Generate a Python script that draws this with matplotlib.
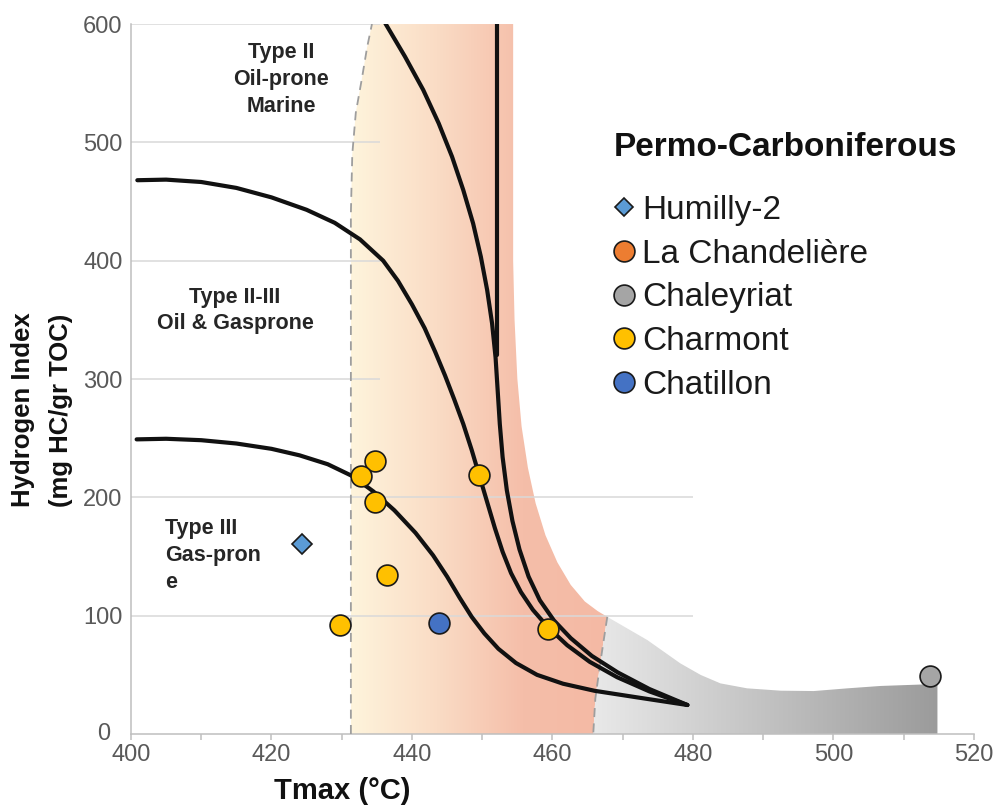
import matplotlib.pyplot as plt
from matplotlib.colors import LinearSegmentedColormap
from matplotlib.lines import Line2D
from matplotlib.patches import Polygon
from matplotlib.transforms import ScaledTranslation
import numpy as np

plt.rcParams["font.family"] = ["Liberation Sans", "DejaVu Sans"]

# samples (Tmax in degC, HI in mg HC/g TOC)
humilly_t = [424.4]
humilly_hi = [160.5]
chandeliere_t = []
chandeliere_hi = []
chaleyriat_t = [513.7]
chaleyriat_hi = [49]
charmont_t = [434.8, 432.7, 434.8, 436.5, 429.8, 449.5, 459.4]
charmont_hi = [231, 218, 196, 134, 92, 219, 89]
chatillon_t = [443.9]
chatillon_hi = [94.2]

# kerogen type boundaries
type2_t = [436.2, 439.0, 441.6, 443.8, 445.7, 447.3, 448.7, 449.8, 450.7, 451.4,
           451.9, 452.2, 452.5, 452.9, 453.5, 454.3, 455.3, 456.6, 458.2, 460.2,
           462.6, 465.6, 469.3, 473.8, 479.2]
type2_hi = [600.6, 572.5, 544.3, 516.1, 487.9, 459.7, 431.5, 403.4, 375.2, 347,
            318, 290, 262, 234, 206, 180, 156, 133, 113, 96,
            81, 66, 52, 38, 24.5]
type2_vert_t = [452.1, 452.1]
type2_vert_hi = [600, 320]
type23_t = [400.9, 405.0, 410.0, 415.0, 420.0, 425.0, 429.0, 432.6, 435.9, 438.0,
            440.0, 441.8, 443.3, 444.7, 446.0, 447.3, 448.5, 449.6, 450.7, 451.8,
            452.9, 454.1, 455.5, 457.2, 459.4, 462.1, 465.3, 469.2, 473.8, 479.2]
type23_hi = [468, 468.5, 466.5, 461.5, 453.5, 443, 432, 418, 400, 383,
             363, 343, 323, 303, 283, 262, 240, 218, 196, 174,
             154, 136, 120, 105, 90, 75, 61, 48, 36, 24.5]
type3_t = [400.8, 405.0, 410.0, 415.0, 420.0, 424.0, 428.0, 431.5, 434.5, 437.5,
           440.5, 443.0, 445.0, 446.8, 448.5, 450.3, 452.3, 454.8, 457.8, 461.5,
           466.0, 472.0, 479.2]
type3_hi = [249, 249.5, 248.3, 245.5, 241, 235.5, 228, 218, 205, 189,
            170, 151, 133, 115, 99, 85, 72, 60, 50, 42.5,
            36.5, 31, 24.5]

# oil window (left dashed edge, then the right edge top to bottom)
oil_left_t = [431.3, 431.3, 431.5, 432.0, 432.9, 433.6, 434.3]
oil_left_hi = [0, 440, 490, 525, 555, 580, 600]
oil_right_t = [454.4, 454.4, 454.6, 455.0, 455.6, 456.5, 457.6, 459.0, 460.7, 462.6,
               464.6, 466.4, 467.8, 466.8, 466.1, 465.8]
oil_right_hi = [600, 400, 350, 300, 260, 225, 195, 168, 145, 126,
                112, 104, 99, 60, 30, 0]
oil_dash_t = [467.8, 466.8, 466.1, 465.8]
oil_dash_hi = [99, 60, 30, 0]

# gas window
gas_t = [465.8, 466.1, 466.8, 467.8, 473.5, 478.2, 481.1, 483.9, 487.7, 492.5,
         497.2, 502.0, 506.7, 514.8, 514.8]
gas_hi = [0, 30, 60, 99, 79.4, 59.7, 49.9, 42.8, 38.6, 36.6,
          36.3, 38.6, 40.6, 42.3, 0]

fig = plt.figure(figsize=(9.97, 8.09), dpi=100)
ax = fig.add_axes([0.1314, 0.0927, 0.8455, 0.8776])

# gradient fills clipped to the maturity windows
oil_poly = Polygon(list(zip(oil_left_t + oil_right_t, oil_left_hi + oil_right_hi)),
                   closed=True, facecolor="none", edgecolor="none")
ax.add_patch(oil_poly)
oil_cmap = LinearSegmentedColormap.from_list("oil", ["#fef4dc", "#fadcc5", "#f5bea9", "#f4b9a4"])
oil_img = ax.imshow(np.linspace(0, 1, 256).reshape(1, -1), cmap=oil_cmap,
                    extent=[431.3, 468, 0, 600], aspect="auto", interpolation="bilinear",
                    zorder=1)
oil_img.set_clip_path(oil_poly)

gas_poly = Polygon(list(zip(gas_t, gas_hi)), closed=True, facecolor="none", edgecolor="none")
ax.add_patch(gas_poly)
gas_cmap = LinearSegmentedColormap.from_list("gas", ["#e9e9e9", "#9b9b9b"])
gas_img = ax.imshow(np.linspace(0, 1, 256).reshape(1, -1), cmap=gas_cmap,
                    extent=[465.8, 514.8, 0, 100], aspect="auto", interpolation="bilinear",
                    zorder=1)
gas_img.set_clip_path(gas_poly)

# partial gridlines
grid_kw = dict(color="#d9d9d9", lw=1.1, zorder=2)
ax.hlines([100, 200], 400, 480, **grid_kw)
ax.hlines([300, 400, 500, 600], 400, 435.5, **grid_kw)

dash_kw = dict(color="#9e9e9e", lw=1.3, linestyle=(0, (5, 3.5)), zorder=3)
ax.plot(oil_left_t, oil_left_hi, **dash_kw)
ax.plot(oil_dash_t, oil_dash_hi, **dash_kw)

curve_kw = dict(color="#111111", lw=3, solid_capstyle="round", solid_joinstyle="round", zorder=4)
ax.plot(type2_t, type2_hi, **curve_kw)
ax.plot(type2_vert_t, type2_vert_hi, **curve_kw)
ax.plot(type23_t, type23_hi, **curve_kw)
ax.plot(type3_t, type3_hi, **curve_kw)

mk = dict(linestyle="none", markeredgecolor="#1a1a1a", markeredgewidth=1.2, zorder=5)
ax.plot(humilly_t, humilly_hi, marker="D", markersize=9.7, markerfacecolor="#5b9bd5", **mk)
ax.plot(chandeliere_t, chandeliere_hi, marker="o", markersize=15, markerfacecolor="#ed7d31", **mk)
ax.plot(chaleyriat_t, chaleyriat_hi, marker="o", markersize=15, markerfacecolor="#a5a5a5", **mk)
ax.plot(charmont_t, charmont_hi, marker="o", markersize=15, markerfacecolor="#ffc000", **mk)
ax.plot(chatillon_t, chatillon_hi, marker="o", markersize=15, markerfacecolor="#4472c4", **mk)

# type labels
lab_kw = dict(fontsize=15.5, fontweight="bold", color="#262626", linespacing=1.36, zorder=6)
ax.text(421.4, 553, "Type II\nOil-prone\nMarine", ha="center", va="center", **lab_kw)
ax.text(414.8, 358, "Type II-III\nOil & Gasprone", ha="center", va="center", **lab_kw)
ax.text(404.9, 151, "Type III\nGas-pron\ne", ha="left", va="center", **lab_kw)

ax.set_xlim(400, 520)
ax.set_ylim(0, 600)
ax.set_xticks(np.arange(400, 521, 20))
ax.set_xticks(np.arange(410, 520, 20), minor=True)
ax.set_yticks(np.arange(0, 601, 100))
ax.tick_params(axis="x", which="both", length=4, width=1.1, color="#bfbfbf",
               labelsize=17, labelcolor="#595959", pad=3)
ax.tick_params(axis="y", length=0, labelsize=17, labelcolor="#595959", pad=6)
for side in ("top", "right"):
    ax.spines[side].set_visible(False)
for side in ("left", "bottom"):
    ax.spines[side].set_color("#bfbfbf")
    ax.spines[side].set_linewidth(1.1)

# nudge the "0" label clear of the "400" label below it
zero_lbl = ax.yaxis.get_major_ticks()[0].label1
zero_lbl.set_transform(zero_lbl.get_transform()
                       + ScaledTranslation(-0.12, 0.03, fig.dpi_scale_trans))

fig.text(342 / 997, 1 - 791 / 809, "Tmax (°C)", fontsize=21, fontweight="bold",
         color="#111111", ha="center", va="center")
fig.text(0.023, 1 - 507 / 809, "Hydrogen Index", rotation=90, fontsize=18.5,
         fontweight="bold", color="#111111", ha="center", va="bottom")
fig.text(0.061, 1 - 507 / 809, "(mg HC/gr TOC)", rotation=90, fontsize=18.5,
         fontweight="bold", color="#111111", ha="center", va="bottom")

# legend
handles = [
    Line2D([], [], marker="D", markersize=9.2, markerfacecolor="#5b9bd5", **mk),
    Line2D([], [], marker="o", markersize=15, markerfacecolor="#ed7d31", **mk),
    Line2D([], [], marker="o", markersize=15, markerfacecolor="#a5a5a5", **mk),
    Line2D([], [], marker="o", markersize=15, markerfacecolor="#ffc000", **mk),
    Line2D([], [], marker="o", markersize=15, markerfacecolor="#4472c4", **mk),
]
labels = ["Humilly-2", "La Chandelière", "Chaleyriat", "Charmont", "Chatillon"]
fig.text(614 / 997, 1 - 148 / 809, "Permo-Carboniferous", fontsize=24, fontweight="bold",
         color="#111111", ha="left", va="center")
ax.legend(handles, labels, loc="upper left", bbox_to_anchor=(614 / 997, 1 - 195 / 809),
          bbox_transform=fig.transFigure, frameon=False, fontsize=24, handlelength=0.6,
          handletextpad=0.24, labelspacing=0.38, borderpad=0, borderaxespad=0,
          labelcolor="#1a1a1a")

fig.savefig("out.png", dpi=100, facecolor="white")
